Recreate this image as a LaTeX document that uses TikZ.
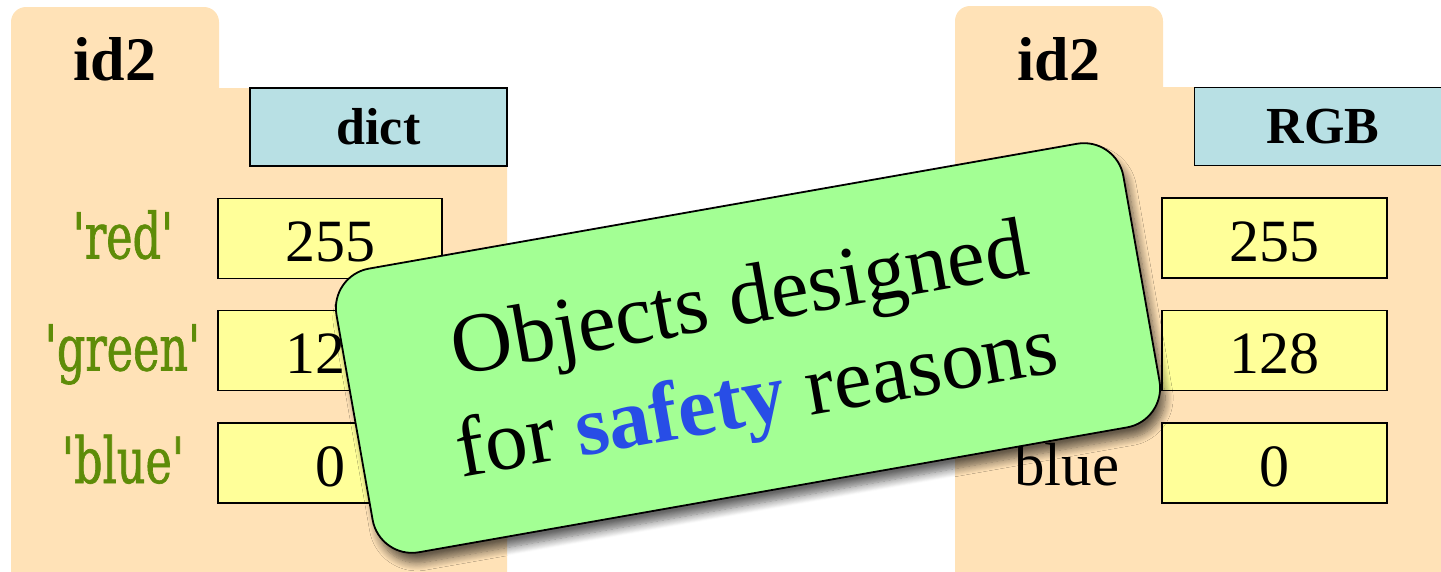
\documentclass[tikz,border=0pt]{standalone}
\usepackage{fontspec}
\setmainfont{Liberation Serif}
\newfontfamily\keyfont[FakeStretch=0.7,FakeBold=1,Ligatures=TeXOff]{DejaVu Serif}
\usetikzlibrary{shadows.blur}

\definecolor{folderbg}{RGB}{255,226,183}
\definecolor{typebg}{RGB}{184,224,228}
\definecolor{valbg}{RGB}{255,255,153}
\definecolor{notegreen}{RGB}{163,255,148}
\definecolor{safetyblue}{RGB}{40,77,230}
\definecolor{keygreen}{RGB}{94,140,8}

\tikzset{
  folder/.style={fill=folderbg},
  typebox/.style={draw, line width=1.6pt, fill=typebg, minimum width=257pt, minimum height=78pt, inner sep=0pt, font=\fontsize{52}{60}\selectfont\bfseries},
  valbox/.style={draw, line width=1.6pt, fill=valbg, minimum width=224pt, minimum height=80pt, inner sep=0pt, text height=46pt, text depth=0pt, font=\fontsize{60}{70}\selectfont},
  keylabel/.style={anchor=base, text=keygreen, font=\keyfont\fontsize{63.6}{70}\selectfont},
  idlabel/.style={anchor=base, font=\fontsize{62}{70}\selectfont\bfseries},
  note/.style={draw, line width=1.8pt, fill=notegreen, rounded corners=40pt, rotate=10,
    minimum width=799pt, minimum height=288pt, align=center, font=\fontsize{85}{101}\selectfont,
    blur shadow={shadow xshift=5pt, shadow yshift=-10pt, shadow opacity=60, shadow blur radius=8pt, shadow blur steps=10}}
}

\begin{document}
\begin{tikzpicture}[x=1pt, y=-1pt]
    \useasboundingbox (0,0) rectangle (1441,571);

    % folder of the dict
    \fill[folder] (11,590) -- (11,22) arc(180:90:15pt) -- (204,7) arc(90:0:15pt) -- (219,88) -- (507,88) -- (507,590) -- cycle;
    \node[idlabel] (lid) at (115,80) {id2};
    \node[typebox] (ltype) at (378.5,127) {dict};
    \node[valbox] (lred) at (330,238.5) {255};
    \node[valbox] (lgreen) at (330,350.5) {128};
    \node[valbox] (lblue) at (330,463) {0};
    \node[keylabel] (lredkey) at (123,258.5) {'red'};
    \node[keylabel] (lgreenkey) at (122.5,370.5) {'green'};
    \node[keylabel] (lbluekey) at (123,483) {'blue'};

    % folder of the RGB object
    \fill[folder] (955,590) -- (955,21) arc(180:90:15pt) -- (1148,6) arc(90:0:15pt) -- (1163,87) -- (1460,87) -- (1460,590) -- cycle;
    \node[idlabel] (rid) at (1059,80) {id2};
    \node[typebox] (rtype) at (1323,126.5) {RGB};
    \node[valbox, minimum width=225pt] (rred) at (1274.5,238) {255};
    \node[valbox, minimum width=225pt] (rgreen) at (1274.5,350.5) {128};
    \node[valbox, minimum width=225pt] (rblue) at (1274.5,463) {0};
    \node[anchor=base, font=\fontsize{61}{70}\selectfont] (rbluekey) at (1067,485) {blue};

    \node[note] (safety) at (748,348) {\rule{0pt}{72pt}Objects designed\\for {\bfseries\color{safetyblue}safety} reasons};
\end{tikzpicture}
\end{document}
